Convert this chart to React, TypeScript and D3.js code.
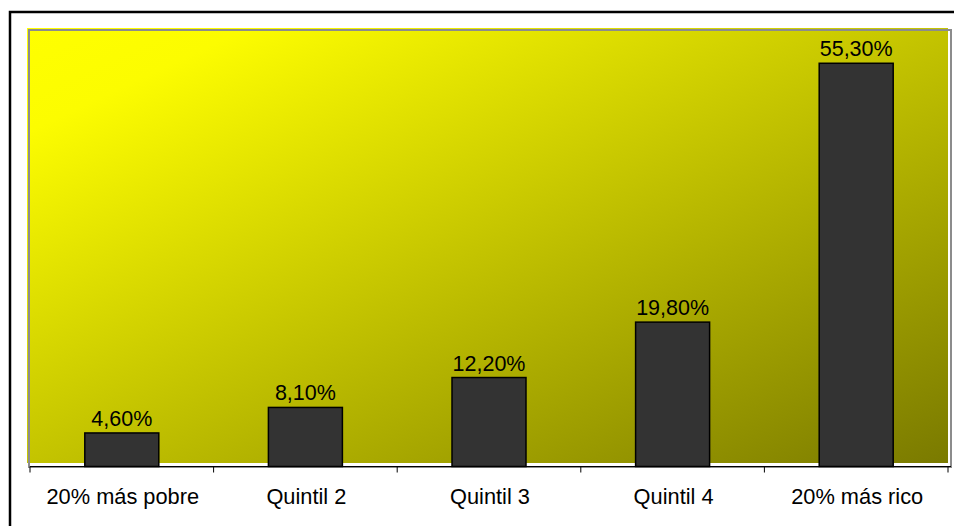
import React from "react";
import * as d3 from "d3";

const categories: string[] = ["20% más pobre", "Quintil 2", "Quintil 3", "Quintil 4", "20% más rico"];
const values: number[] = [4.6, 8.1, 12.2, 19.8, 55.3];
const valueLabels: string[] = ["4,60%", "8,10%", "12,20%", "19,80%", "55,30%"];

const W = 954;
const H = 526;
const FONT = "Liberation Sans, Arial, sans-serif";

export default function App() {
  const x0 = 30;
  const x1 = 948;
  const yBase = 466.5;
  const x = d3
    .scaleBand<string>()
    .domain(categories)
    .range([x0, x1])
    .paddingInner(0.597)
    .paddingOuter(0.2985);
  const y = d3.scaleLinear().domain([0, 60]).range([yBase, 29]);
  const step = x.step();
  const tickXs = d3.range(categories.length + 1).map((i) => x0 + i * step);

  return (
    <svg
      width={W}
      height={H}
      style={{ position: "absolute", left: 0, top: 0, background: "#fff" }}
    >
      <defs>
        <linearGradient id="plotGrad" x1="0" y1="0" x2="1" y2="1">
          <stop offset="0%" stopColor="#ffff00" />
          <stop offset="12%" stopColor="#fcfc00" />
          <stop offset="100%" stopColor="#7a7a00" />
        </linearGradient>
      </defs>
      <rect x={0} y={0} width={W} height={H} fill="#fff" />
      <rect x={10} y={12} width={970} height={540} fill="none" stroke="#000" strokeWidth={2.5} />
      <rect x={27} y={28} width={921} height={435} fill="url(#plotGrad)" />
      <rect x={29} y={30} width={922} height={437} fill="none" stroke="#8c8c8c" strokeWidth={2} />
      {categories.map((c, i) => {
        const bx = x(c)!;
        const by = y(values[i]);
        return (
          <g key={c}>
            <rect
              x={bx}
              y={by}
              width={x.bandwidth()}
              height={yBase - by}
              fill="#333333"
              stroke="#000"
              strokeWidth={1.5}
            />
            <text
              x={bx + x.bandwidth() / 2}
              y={by - 7}
              textAnchor="middle"
              fontFamily={FONT}
              fontSize={21.5}
              fill="#000"
            >
              {valueLabels[i]}
            </text>
            <text
              x={bx + x.bandwidth() / 2 + 1}
              y={504}
              textAnchor="middle"
              fontFamily={FONT}
              fontSize={21.8}
              fill="#000"
            >
              {c}
            </text>
          </g>
        );
      })}
      <line x1={x0} x2={x1 + 3} y1={yBase} y2={yBase} stroke="#000" strokeWidth={1} />
      {tickXs.map((tx, i) => (
        <line key={i} x1={tx} x2={tx} y1={yBase} y2={yBase + 6} stroke="#000" strokeWidth={1} />
      ))}
    </svg>
  );
}
